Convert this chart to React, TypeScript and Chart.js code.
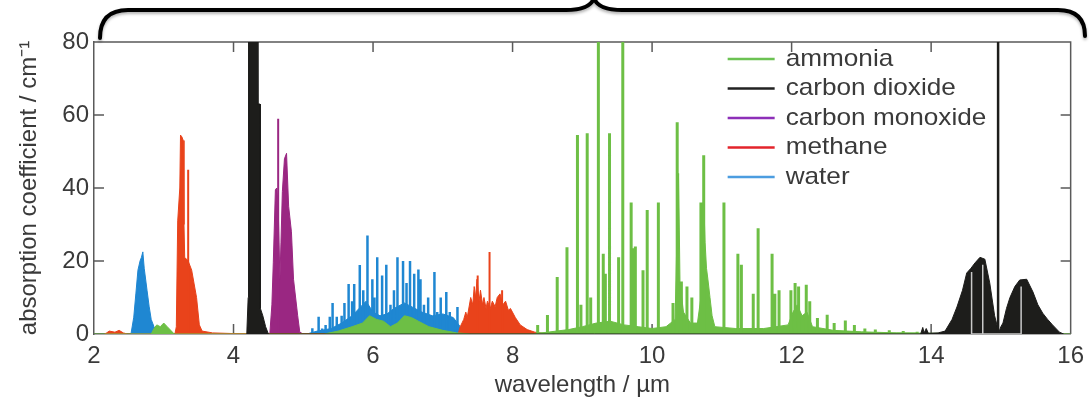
import React, { useEffect, useRef } from "react";
import { Chart, registerables } from "chart.js";

Chart.register(...registerables);

type Pt = [number, number];

// ---------- axes ----------
const xTicks = [2, 4, 6, 8, 10, 12, 14, 16];
const yTicks = [0, 20, 40, 60, 80];

// ---------- legend ----------
const seriesNames = ["ammonia", "carbon dioxide", "carbon monoxide", "methane", "water"];

// ---------- ammonia (green) ----------
const ammoniaBand: Pt[] = [
  [2.0, 0], [2.82, 0], [2.86, 1.5], [2.9, 2.5], [2.95, 2], [3.0, 3], [3.05, 2], [3.1, 1], [3.15, 0],
  [5.3, 0], [5.5, 0.8], [5.7, 2], [5.85, 3], [5.95, 5], [6.05, 4], [6.15, 3.5], [6.25, 2], [6.35, 3],
  [6.45, 5], [6.55, 4.5], [6.65, 3.5], [6.8, 2], [7.0, 1], [7.2, 0.3], [7.4, 0],
  [8.3, 0], [8.5, 0.5], [8.8, 1.2], [9.0, 2], [9.2, 3], [9.4, 3.5], [9.6, 2.5], [9.8, 2], [10.0, 1.5],
  [10.2, 2], [10.33, 4], [10.36, 30], [10.38, 44], [10.4, 14], [10.45, 6], [10.55, 3], [10.65, 3],
  [10.7, 10], [10.72, 30], [10.74, 37], [10.76, 25], [10.78, 18], [10.8, 15], [10.83, 10], [10.86, 5],
  [10.9, 2], [11.2, 1.5], [11.6, 1.5], [11.95, 2.5], [12.02, 6], [12.08, 8], [12.15, 5], [12.22, 6],
  [12.3, 2], [12.6, 1], [13.0, 0.6], [13.5, 0.3], [14.0, 0.2], [16.0, 0],
];
const ammoniaLines: Pt[] = [
  [8.36, 2.5], [8.5, 5.2], [8.64, 15.6], [8.78, 23.8], [8.93, 54.5], [8.98, 8], [9.07, 55], [9.12, 10],
  [9.23, 85], [9.3, 22], [9.33, 16.5], [9.39, 55], [9.52, 21], [9.58, 85], [9.7, 36], [9.73, 23.5],
  [9.76, 24], [9.87, 17.5], [9.93, 34], [10.09, 36], [10.3, 8.5], [10.36, 58], [10.42, 14.4],
  [10.5, 13], [10.57, 10], [10.7, 36], [10.74, 49], [11.03, 36], [11.23, 22], [11.28, 19], [11.45, 11],
  [11.52, 29], [11.72, 22], [11.76, 11], [11.82, 12], [11.99, 12], [12.05, 14], [12.1, 13],
  [12.21, 13.5], [12.26, 9], [12.37, 4.4], [12.51, 5.3], [12.61, 3], [12.77, 3.7], [12.9, 2.5],
  [13.05, 1.5], [13.2, 1.2], [13.4, 1], [13.6, 0.8], [13.8, 0.6],
];

// ---------- carbon dioxide (black) ----------
const co2Band: Pt[] = [
  [4.19, 0], [4.21, 10], [4.215, 85], [4.345, 85], [4.35, 63], [4.38, 63], [4.385, 7], [4.42, 5],
  [4.46, 2], [4.5, 0],
  [13.85, 0], [13.88, 1.8], [13.9, 0.3], [13.93, 1.5], [13.96, 0.2], [14.1, 0.3], [14.2, 0.8],
  [14.3, 4], [14.37, 7.4], [14.45, 12], [14.51, 16.7], [14.57, 18], [14.63, 19.5], [14.7, 21],
  [14.77, 20.5], [14.84, 14], [14.91, 5], [14.95, 2], [14.97, 0.5], [15.0, 2], [15.03, 3], [15.08, 7],
  [15.13, 10], [15.2, 13], [15.27, 14.8], [15.37, 15], [15.46, 11.5], [15.53, 8], [15.6, 5.7],
  [15.67, 4], [15.74, 2.5], [15.84, 0.5], [15.9, 0],
];
const co2Lines: Pt[] = [[14.96, 85]];
const co2Gaps: Pt[] = [[14.58, 17], [14.74, 19], [15.29, 13]];

// ---------- carbon monoxide (purple) ----------
const coBand: Pt[] = [
  [4.52, 0], [4.55, 8], [4.57, 19.5], [4.6, 39.5], [4.62, 40], [4.64, 35], [4.665, 15], [4.68, 25],
  [4.7, 39], [4.73, 48], [4.76, 49.5], [4.79, 35], [4.83, 28], [4.86, 15], [4.92, 5], [4.95, 0.5],
  [5.0, 0],
];
const coLines: Pt[] = [[4.64, 59]];

// ---------- methane (red) ----------
const methaneBand: Pt[] = [
  [2.15, 0], [2.18, 0.3], [2.22, 0.8], [2.3, 0.5], [2.36, 1], [2.42, 0.3], [2.48, 0],
  [3.16, 0], [3.18, 2], [3.2, 31], [3.23, 40], [3.24, 54.5], [3.26, 54], [3.28, 53], [3.29, 30],
  [3.3, 21], [3.35, 20], [3.4, 17.5], [3.47, 10], [3.51, 2.5], [3.55, 0.8], [3.7, 0.3], [4.2, 0],
  [7.22, 0], [7.25, 2], [7.3, 4], [7.33, 6], [7.35, 4.5], [7.4, 10], [7.43, 8], [7.45, 13],
  [7.47, 10], [7.49, 15], [7.52, 9], [7.54, 12], [7.57, 8], [7.59, 10], [7.62, 7], [7.64, 9],
  [7.68, 7], [7.71, 9], [7.75, 7.5], [7.78, 10], [7.82, 11], [7.86, 8], [7.9, 9], [7.94, 6.5],
  [7.97, 7], [8.04, 4.5], [8.11, 2.5], [8.21, 1.2], [8.32, 0.5], [8.5, 0],
];
const methaneLines: Pt[] = [[3.35, 45], [7.5, 16], [7.67, 22.5], [7.85, 12]];

// ---------- water (blue) ----------
const waterBand: Pt[] = [
  [2.53, 0], [2.57, 4.6], [2.6, 11], [2.63, 17.5], [2.66, 20], [2.68, 21], [2.7, 22.5], [2.72, 18],
  [2.76, 12], [2.79, 7.6], [2.82, 4], [2.86, 2], [2.9, 0.5], [2.95, 0],
  [5.05, 0], [5.2, 0.8], [5.4, 1.5], [5.55, 3], [5.7, 5], [5.8, 7], [5.9, 9], [6.0, 6], [6.1, 5],
  [6.2, 5.5], [6.3, 7], [6.45, 8.5], [6.6, 7], [6.7, 6], [6.85, 5], [7.0, 5.5], [7.15, 4.5],
  [7.25, 2], [7.3, 0],
];
const waterLines: Pt[] = [
  [5.13, 1.6], [5.22, 4.7], [5.27, 1.5], [5.32, 2.5], [5.38, 4.7], [5.42, 8.5], [5.48, 4.7],
  [5.55, 5], [5.59, 8.5], [5.65, 13.7], [5.7, 9], [5.73, 13.7], [5.81, 18.9], [5.86, 12],
  [5.92, 27], [5.99, 15], [6.02, 10], [6.06, 21], [6.13, 16], [6.19, 19], [6.25, 8], [6.3, 12],
  [6.35, 21], [6.43, 20], [6.48, 14], [6.53, 20], [6.59, 16.5], [6.65, 17.7], [6.68, 15],
  [6.73, 8], [6.79, 10], [6.88, 17], [6.92, 6], [6.97, 10], [7.05, 11.5], [7.1, 6], [7.15, 4],
  [7.21, 7.4],
];

// ---------- styles ----------
const COLORS = {
  ammonia: "#6dbf45",
  co2: "#1d1d1b",
  co: "#9a2782",
  methane: "#e9431b",
  water: "#1f87d2",
  gap: "#c9c9c9",
};
const LEGEND_COLORS = ["#6cc253", "#222222", "#8d2fb8", "#e3242b", "#4c9de0"];
const FONT = '"Liberation Sans", Arial, Helvetica, sans-serif';
const TEXT = "#3a3a3a";
const AXIS = "#5a5a5a";

const toXY = (pts: Pt[]) => pts.map(([x, y]) => ({ x, y }));
const toSpikes = (pts: Pt[]) =>
  pts.flatMap(([x, h]) => [
    { x, y: 0 },
    { x, y: h },
    { x, y: 0 },
  ]);

const band = (data: Pt[], color: string, order: number) => ({
  type: "line" as const,
  data: toXY(data),
  borderColor: color,
  backgroundColor: color,
  borderWidth: 1,
  fill: "origin",
  pointRadius: 0,
  tension: 0,
  order,
});
const spikes = (data: Pt[], color: string, width: number, order: number) => ({
  type: "line" as const,
  data: toSpikes(data),
  borderColor: color,
  backgroundColor: color,
  borderWidth: width,
  fill: false,
  pointRadius: 0,
  tension: 0,
  order,
});

const framePlugin = {
  id: "frame",
  beforeDatasetsDraw(chart: any) {
    const { ctx, chartArea: a, scales } = chart;
    const tl = 10;
    ctx.save();
    ctx.strokeStyle = AXIS;
    ctx.lineWidth = 1.5;
    ctx.beginPath();
    ctx.moveTo(a.left, a.top);
    ctx.lineTo(a.right, a.top);
    ctx.lineTo(a.right, a.bottom);
    scales.x.ticks.forEach((t: any) => {
      const px = scales.x.getPixelForValue(t.value);
      if (px <= a.left + 1 || px >= a.right - 1) return;
      ctx.moveTo(px, a.bottom);
      ctx.lineTo(px, a.bottom - tl);
      ctx.moveTo(px, a.top);
      ctx.lineTo(px, a.top + tl);
    });
    scales.y.ticks.forEach((t: any) => {
      const py = scales.y.getPixelForValue(t.value);
      if (py <= a.top + 1 || py >= a.bottom - 1) return;
      ctx.moveTo(a.left, py);
      ctx.lineTo(a.left + tl, py);
      ctx.moveTo(a.right, py);
      ctx.lineTo(a.right - tl, py);
    });
    ctx.stroke();
    ctx.restore();
  },
};

const legendPlugin = {
  id: "insideLegend",
  afterDatasetsDraw(chart: any) {
    const { ctx, chartArea: a } = chart;
    const lineStart = a.right - 343;
    const lineEnd = a.right - 296;
    const textX = a.right - 285;
    const y0 = a.top + 17;
    const gap = 29.5;
    ctx.save();
    ctx.font = `24px ${FONT}`;
    ctx.textBaseline = "middle";
    ctx.textAlign = "left";
    seriesNames.forEach((name, i) => {
      const y = y0 + i * gap;
      ctx.strokeStyle = LEGEND_COLORS[i];
      ctx.lineWidth = 2.5;
      ctx.beginPath();
      ctx.moveTo(lineStart, y);
      ctx.lineTo(lineEnd, y);
      ctx.stroke();
      ctx.save();
      ctx.translate(textX, y);
      ctx.scale(1.09, 1);
      ctx.fillStyle = TEXT;
      ctx.fillText(name, 0, 0);
      ctx.restore();
    });
    ctx.restore();
  },
};

const bracePlugin = {
  id: "brace",
  afterDraw(chart: any) {
    const { ctx } = chart;
    ctx.save();
    ctx.strokeStyle = "#000";
    ctx.lineWidth = 4;
    ctx.lineCap = "round";
    ctx.lineJoin = "round";
    ctx.shadowColor = "rgba(0,0,0,0.3)";
    ctx.shadowBlur = 3;
    ctx.shadowOffsetY = 2;
    ctx.beginPath();
    ctx.moveTo(100, 38);
    ctx.quadraticCurveTo(100, 10, 128, 10);
    ctx.lineTo(566, 10);
    ctx.quadraticCurveTo(590, 10, 594, -2);
    ctx.quadraticCurveTo(598, 10, 622, 10);
    ctx.lineTo(1058, 10);
    ctx.quadraticCurveTo(1085, 10, 1085, 36);
    ctx.stroke();
    ctx.restore();
  },
};

export default function App() {
  const ref = useRef<HTMLCanvasElement | null>(null);

  useEffect(() => {
    if (!ref.current) return;
    const chart = new Chart(ref.current, {
      type: "line",
      data: {
        datasets: [
          spikes(co2Gaps, COLORS.gap, 1.5, 0),
          spikes(co2Lines, COLORS.co2, 2.5, 1),
          band(co2Band, COLORS.co2, 2),
          spikes(ammoniaLines, COLORS.ammonia, 3, 3),
          band(ammoniaBand, COLORS.ammonia, 4),
          spikes(methaneLines, COLORS.methane, 2, 5),
          band(methaneBand, COLORS.methane, 6),
          spikes(coLines, COLORS.co, 2, 7),
          band(coBand, COLORS.co, 8),
          spikes(waterLines, COLORS.water, 2.5, 9),
          band(waterBand, COLORS.water, 10),
        ] as any,
      },
      options: {
        animation: false,
        responsive: false,
        devicePixelRatio: 1,
        layout: { padding: { left: 0, right: 21, top: 42, bottom: 0 } },
        plugins: {
          legend: { display: false },
          tooltip: { enabled: false },
        },
        elements: { point: { radius: 0 } },
        scales: {
          x: {
            type: "linear",
            min: 2,
            max: 16,
            afterBuildTicks: (s: any) => {
              s.ticks = xTicks.map((v) => ({ value: v }));
            },
            afterFit: (s: any) => {
              s.height = 77;
            },
            grid: { display: false, drawTicks: false },
            border: { display: true, color: AXIS, width: 1.5 },
            ticks: {
              padding: 8,
              color: TEXT,
              font: { family: FONT, size: 24 },
              maxRotation: 0,
              autoSkip: false,
            },
            title: {
              display: true,
              text: "wavelength / µm",
              color: TEXT,
              font: { family: FONT, size: 24 },
              padding: { top: 0, bottom: 11 },
            },
          },
          y: {
            type: "linear",
            min: 0,
            max: 80,
            afterBuildTicks: (s: any) => {
              s.ticks = yTicks.map((v) => ({ value: v }));
            },
            afterFit: (s: any) => {
              s.width = 94;
            },
            grid: { display: false, drawTicks: false },
            border: { display: true, color: AXIS, width: 1.5 },
            ticks: {
              padding: 5,
              color: TEXT,
              font: { family: FONT, size: 24 },
            },
            title: {
              display: true,
              text: "absorption coefficient / cm⁻¹",
              color: TEXT,
              font: { family: FONT, size: 24 },
              padding: { top: 15, bottom: 0 },
            },
          },
        },
      } as any,
      plugins: [framePlugin, legendPlugin, bracePlugin],
    });
    return () => chart.destroy();
  }, []);

  return (
    <div
      style={{
        position: "fixed",
        left: 0,
        top: 0,
        width: 1092,
        height: 411,
        background: "#fff",
      }}
    >
      <canvas ref={ref} width={1092} height={411} style={{ display: "block" }} />
    </div>
  );
}
